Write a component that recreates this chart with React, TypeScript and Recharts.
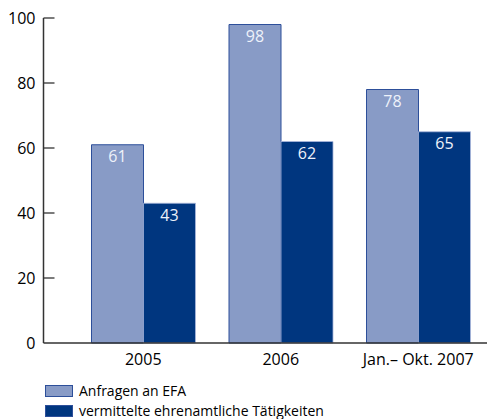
import React from 'react';
import { BarChart, Bar, XAxis, YAxis, LabelList, Legend } from 'recharts';

const categories = ['2005', '2006', 'Jan.– Okt. 2007'];
const anfragen = [61, 98, 78];
const vermittelte = [43, 62, 65];
const yTicks = [0, 20, 40, 60, 80, 100];
const seriesNames = ['Anfragen an EFA', 'vermittelte ehrenamtliche Tätigkeiten'];

const data = categories.map((c, i) => ({ name: c, a: anfragen[i], v: vermittelte[i] }));

const LIGHT = '#889bc6';
const DARK = '#00367f';
const FONT = '"Open Sans", sans-serif';

const YTick = (props: any) => {
  const { x, y, payload } = props;
  return (
    <g>
      {payload.value !== 0 && <line x1={x} x2={x + 11} y1={y} y2={y} stroke="#333" strokeWidth={1.3} />}
      <text x={x - 8} y={y} dy={5.5} textAnchor="end" fill="#000" fontSize={16} fontFamily={FONT}>
        {payload.value}
      </text>
    </g>
  );
};

const LegendContent = () => (
  <div style={{ height: 44, paddingLeft: 45, paddingTop: 6, boxSizing: 'border-box', fontFamily: FONT, fontSize: 14, color: '#000', textAlign: 'left', lineHeight: '18px' }}>
    {seriesNames.map((n, i) => (
      <div key={n} style={{ display: 'flex', alignItems: 'center', height: 20, whiteSpace: 'nowrap' }}>
        <span style={{ display: 'inline-block', width: 26, height: 10, background: i === 0 ? LIGHT : DARK, border: '1px solid #2d4f9a', marginRight: 6 }} />
        <span>{n}</span>
      </div>
    ))}
  </div>
);

export default function App() {
  return (
    <div style={{ position: 'absolute', left: 0, top: 0 }}>
      <BarChart width={487} height={419} data={data} margin={{ top: 18, right: 0, left: 0, bottom: 0 }} barGap={0} barSize={52}>
        <XAxis dataKey="name" height={32} padding={{ left: 31, right: 0 }} tickLine={false} axisLine={{ stroke: '#333', strokeWidth: 1.5 }}
          tick={{ fill: '#000', fontSize: 16, fontFamily: FONT }} tickMargin={5} />
        <YAxis width={43.5} domain={[0, 100]} ticks={yTicks} tickLine={false} tickSize={0} tickMargin={0}
          axisLine={{ stroke: '#333', strokeWidth: 1.5 }} tick={<YTick />} interval={0} />
        <Legend verticalAlign="bottom" align="left" layout="horizontal" content={<LegendContent />} wrapperStyle={{ left: 0, width: 487 }} />
        <Bar dataKey="a" fill={LIGHT} stroke="#2d4f9a" strokeWidth={1} isAnimationActive={false}>
          <LabelList dataKey="a" position="insideTop" offset={6} fill="#eef2fa" fontSize={16} fontFamily={FONT} />
        </Bar>
        <Bar dataKey="v" fill={DARK} stroke="#a9b7dc" strokeWidth={0.8} isAnimationActive={false}>
          <LabelList dataKey="v" position="insideTop" offset={6} fill="#eef2fa" fontSize={16} fontFamily={FONT} />
        </Bar>
      </BarChart>
    </div>
  );
}
